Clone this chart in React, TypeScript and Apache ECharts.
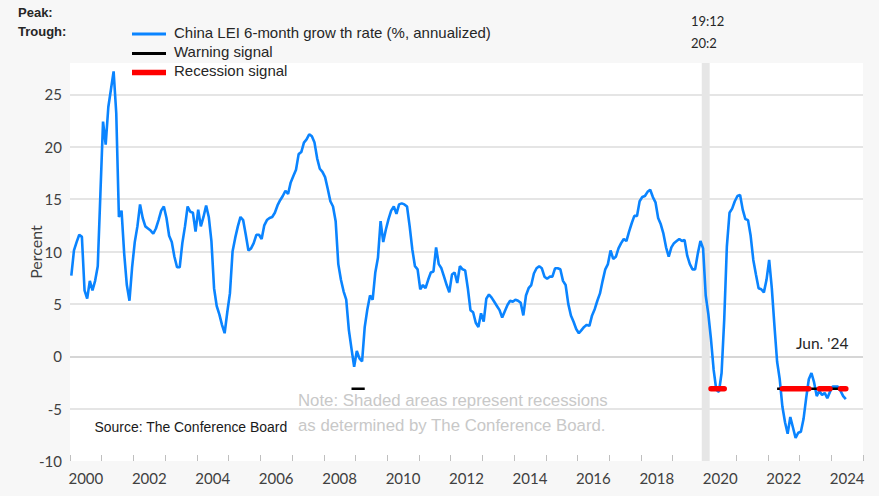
import React, { useEffect, useRef } from "react";
import * as echarts from "echarts";

// Year categories along the x axis (each year = 12 monthly slots)
const yearLabels = [
  "2000", "2001", "2002", "2003", "2004", "2005", "2006", "2007", "2008", "2009",
  "2010", "2011", "2012", "2013", "2014", "2015", "2016", "2017", "2018", "2019",
  "2020", "2021", "2022", "2023", "2024",
];

// China LEI 6-month growth rate (%, annualized), monthly from Jan 2000 to Jun 2024
const lei2000 = [7.7, 10.1, 10.9, 11.6, 11.4, 6.3, 5.5, 7.2, 6.3, 7.2, 8.6, 15.5];
const lei2001 = [22.4, 20.2, 23.8, 25.5, 27.2, 23.2, 13.3, 13.9, 9.8, 6.8, 5.3, 8.5];
const lei2002 = [10.9, 12.4, 14.5, 13.2, 12.4, 12.2, 12.0, 11.7, 12.2, 13.0, 13.9, 14.3];
const lei2003 = [13.2, 11.5, 10.9, 9.5, 8.5, 8.5, 10.8, 12.4, 14.3, 13.8, 13.7, 11.9];
const lei2004 = [14.0, 12.4, 13.3, 14.4, 13.3, 11.0, 6.5, 4.8, 4.0, 3.0, 2.2, 4.2];
const lei2005 = [6.0, 10.0, 11.3, 12.4, 13.3, 13.0, 11.6, 10.1, 10.3, 10.8, 11.6, 11.6];
const lei2006 = [11.2, 12.5, 13.0, 13.2, 13.3, 13.7, 14.4, 14.9, 15.3, 15.8, 15.5, 16.6];
const lei2007 = [17.2, 17.8, 19.3, 19.5, 20.4, 20.7, 21.2, 21.0, 20.4, 18.9, 17.9, 17.6];
const lei2008 = [17.1, 16.0, 14.8, 14.3, 12.9, 8.8, 7.3, 6.2, 5.4, 2.5, 0.7, -1.0];
const lei2009 = [0.5, -0.2, -0.5, 2.8, 4.5, 5.8, 5.4, 8.0, 9.4, 12.9, 10.9, 12.1];
const lei2010 = [13.1, 13.9, 14.3, 13.6, 14.5, 14.6, 14.5, 14.3, 12.4, 10.2, 8.6, 8.3];
const lei2011 = [6.4, 6.8, 6.5, 7.3, 8.0, 8.1, 10.4, 8.8, 8.4, 7.6, 6.8, 6.1];
const lei2012 = [7.8, 8.0, 7.0, 8.6, 8.3, 8.2, 6.5, 4.4, 4.2, 3.2, 2.8, 4.1];
const lei2013 = [3.3, 5.5, 5.9, 5.6, 5.2, 4.8, 4.4, 3.7, 4.3, 4.9, 5.3, 5.2];
const lei2014 = [5.4, 5.3, 5.1, 3.9, 5.8, 6.5, 6.8, 7.9, 8.4, 8.6, 8.4, 7.6];
const lei2015 = [7.4, 7.6, 7.6, 8.4, 8.4, 8.3, 7.2, 6.8, 5.0, 3.9, 3.3, 2.6];
const lei2016 = [2.2, 2.5, 2.8, 3.0, 2.9, 3.9, 4.5, 5.3, 6.0, 7.2, 8.3, 8.8];
const lei2017 = [10.1, 9.3, 9.5, 10.3, 10.8, 11.2, 11.0, 11.9, 12.7, 13.4, 13.4, 14.8];
const lei2018 = [15.2, 15.3, 15.7, 15.9, 15.2, 14.7, 13.2, 12.6, 11.7, 10.4, 9.5, 10.4];
const lei2019 = [10.8, 11.0, 11.2, 11.0, 11.1, 9.6, 8.8, 8.3, 8.3, 9.8, 11.0, 10.3];
const lei2020 = [5.8, 4.0, 1.6, -1.3, -3.2, -3.4, -1.6, 3.5, 10.5, 13.7, 14.1, 14.8];
const lei2021 = [15.3, 15.4, 14.0, 13.1, 13.0, 11.5, 9.2, 7.8, 6.5, 6.4, 6.1, 7.3];
const lei2022 = [9.2, 6.5, 2.9, -0.5, -2.2, -4.8, -6.3, -7.4, -5.8, -6.8, -7.8, -7.3];
const lei2023 = [-7.2, -6.0, -4.0, -2.2, -1.6, -2.5, -3.8, -3.3, -3.7, -3.5, -4.0, -3.4];
const lei2024 = [-2.9, -2.9, -2.9, -3.3, -3.8, -4.1];

const leiGrowth = [
  ...lei2000, ...lei2001, ...lei2002, ...lei2003, ...lei2004, ...lei2005, ...lei2006,
  ...lei2007, ...lei2008, ...lei2009, ...lei2010, ...lei2011, ...lei2012, ...lei2013,
  ...lei2014, ...lei2015, ...lei2016, ...lei2017, ...lei2018, ...lei2019, ...lei2020,
  ...lei2021, ...lei2022, ...lei2023, ...lei2024,
];

// Signals: month index ranges (0 = Jan 2000), drawn at a fixed level
const signalLevel = -3.1;
const warningRanges = [[106, 111], [267, 293]];
const recessionRanges = [[242, 247], [269, 279], [283, 287], [291, 293]];

// Recession shading: peak Dec 2019 (month 239) to trough Feb 2020 (month 241)
const recessionPeak = 239;
const recessionTrough = 242;

const yTickLabels = [-10, -5, 0, 5, 10, 15, 20, 25];

function rangesToData(ranges: number[][]) {
  const out: any[] = [];
  ranges.forEach((r, k) => {
    if (k > 0) out.push([r[0] - 1, "-"]);
    for (let m = r[0]; m <= r[1]; m++) out.push([m + 0.5, signalLevel]);
  });
  return out;
}

export default function App() {
  const ref = useRef<HTMLDivElement>(null);
  useEffect(() => {
    document.body.style.margin = "0";
    document.body.style.background = "#f7f7f7";
    const chart = echarts.init(ref.current!, null, { renderer: "svg" });
    const axisFont = "Lato";
    const textColor = "#404040";
    const option: any = {
      animation: false,
      backgroundColor: "#f7f7f7",
      grid: {
        left: 70,
        right: 16,
        top: 63,
        bottom: 35,
        show: true,
        backgroundColor: "#ffffff",
        borderWidth: 0,
      },
      xAxis: [
        {
          type: "category",
          data: yearLabels,
          boundaryGap: true,
          axisLine: { show: false, onZero: false },
          axisTick: {
            show: true,
            inside: true,
            length: 6,
            interval: 0,
            lineStyle: { color: "#bfbfbf", width: 1 },
          },
          axisLabel: {
            interval: 1,
            fontFamily: axisFont,
            fontSize: 15,
            color: textColor,
            margin: 9,
          },
          splitLine: { show: false },
        },
        { type: "value", min: 0, max: 300, show: false },
      ],
      yAxis: {
        type: "value",
        min: -10,
        max: 28,
        interval: 5,
        axisLine: { show: false },
        axisTick: { show: false },
        axisLabel: {
          fontFamily: axisFont,
          fontSize: 15,
          color: textColor,
          margin: 8,
          formatter: (v: number) => (yTickLabels.indexOf(v) >= 0 ? String(v) : ""),
        },
        splitLine: {
          lineStyle: {
            width: 1.5,
            color: [
              "rgba(0,0,0,0)", "#dcdcdc", "#c8c8c8", "#dcdcdc", "#dcdcdc",
              "#dcdcdc", "#dcdcdc", "#dcdcdc", "rgba(0,0,0,0)",
            ],
          },
        },
      },
      series: [
        {
          type: "line",
          xAxisIndex: 1,
          data: leiGrowth.map((v, i) => [i + 0.5, v]),
          symbol: "none",
          lineStyle: { color: "#0A84FF", width: 2.6 },
          z: 3,
          markArea: {
            silent: true,
            itemStyle: { color: "#e6e6e6" },
            data: [[{ xAxis: recessionPeak }, { xAxis: recessionTrough }]],
          },
        },
        {
          type: "line",
          xAxisIndex: 1,
          data: rangesToData(warningRanges),
          symbol: "none",
          connectNulls: false,
          lineStyle: { color: "#000000", width: 2.5 },
          z: 4,
        },
        {
          type: "line",
          xAxisIndex: 1,
          data: rangesToData(recessionRanges),
          symbol: "none",
          connectNulls: false,
          lineStyle: { color: "#ff0000", width: 5.5, cap: "round" },
          z: 5,
        },
      ],
      graphic: [
        {
          type: "text", x: 18, y: 12,
          style: { text: "Peak:", fontFamily: "Liberation Sans", fontWeight: "bold", fontSize: 13, fill: "#262626", align: "left", verticalAlign: "middle" },
        },
        {
          type: "text", x: 18, y: 31,
          style: { text: "Trough:", fontFamily: "Liberation Sans", fontWeight: "bold", fontSize: 13, fill: "#262626", align: "left", verticalAlign: "middle" },
        },
        {
          type: "text", x: 691, y: 20.5,
          style: { text: "19:12", fontFamily: axisFont, fontSize: 13, fill: "#262626", align: "left", verticalAlign: "middle" },
        },
        {
          type: "text", x: 691, y: 42.5,
          style: { text: "20:2", fontFamily: axisFont, fontSize: 13, fill: "#262626", align: "left", verticalAlign: "middle" },
        },
        { type: "line", shape: { x1: 132, y1: 34, x2: 166, y2: 34 }, style: { stroke: "#0A84FF", lineWidth: 3 } },
        { type: "line", shape: { x1: 132, y1: 53.5, x2: 166, y2: 53.5 }, style: { stroke: "#000000", lineWidth: 3 } },
        { type: "line", shape: { x1: 132, y1: 72.5, x2: 166, y2: 72.5 }, style: { stroke: "#ff0000", lineWidth: 5.5 } },
        {
          type: "text", x: 174, y: 32.5,
          style: { text: "China LEI 6-month grow th rate (%, annualized)", fontFamily: "Liberation Sans", fontSize: 15, fill: "#262626", align: "left", verticalAlign: "middle" },
        },
        {
          type: "text", x: 174, y: 51.5,
          style: { text: "Warning signal", fontFamily: "Liberation Sans", fontSize: 15, fill: "#262626", align: "left", verticalAlign: "middle" },
        },
        {
          type: "text", x: 174, y: 70.5,
          style: { text: "Recession signal", fontFamily: "Liberation Sans", fontSize: 15, fill: "#262626", align: "left", verticalAlign: "middle" },
        },
        {
          type: "text", x: 35.5, y: 252, rotation: Math.PI / 2,
          style: { text: "Percent", fontFamily: axisFont, fontSize: 16, fill: textColor, align: "center", verticalAlign: "middle" },
        },
        {
          type: "text", x: 796, y: 343,
          style: { text: "Jun. '24", fontFamily: axisFont, fontSize: 15.5, fill: "#262626", align: "left", verticalAlign: "middle" },
        },
        {
          type: "text", x: 298, y: 400.5,
          style: { text: "Note: Shaded areas represent recessions", fontFamily: "Liberation Sans", fontSize: 16.8, fill: "#c8c8c8", align: "left", verticalAlign: "middle" },
        },
        {
          type: "text", x: 298, y: 425.5,
          style: { text: "as determined by The Conference Board.", fontFamily: "Liberation Sans", fontSize: 16.8, fill: "#c8c8c8", align: "left", verticalAlign: "middle" },
        },
        {
          type: "text", x: 94.5, y: 427, scaleX: 0.9,
          style: { text: "Source: The Conference Board", fontFamily: "Liberation Sans", fontSize: 15.5, fill: "#1a1a1a", align: "left", verticalAlign: "middle" },
        },
      ],
    };
    chart.setOption(option);
    return () => chart.dispose();
  }, []);
  return <div ref={ref} style={{ width: 879, height: 496, overflow: "hidden" }} />;
}
